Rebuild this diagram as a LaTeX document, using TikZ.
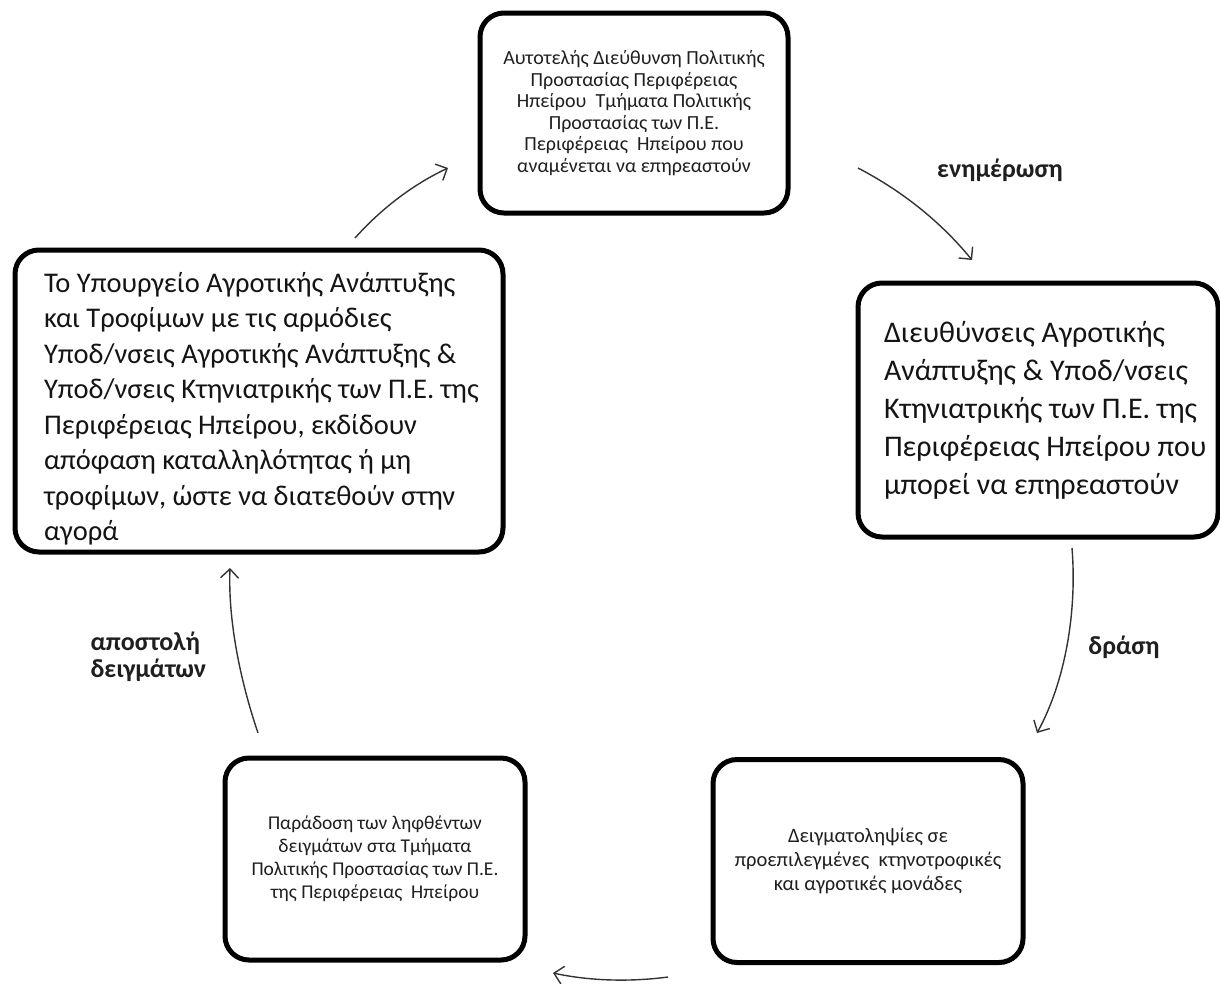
\documentclass[tikz,border=0pt]{standalone}
\usepackage{fontspec}
\setmainfont{Carlito}
\usetikzlibrary{arrows.meta}
\begin{document}
\begin{tikzpicture}[x=1pt,y=-1pt,
  box/.style={draw=black, line width=5pt, rounded corners=24pt, fill=white},
  small/.style={font=\fontsize{20}{21.6}\selectfont, align=center, text=black!88},
  big/.style={font=\fontsize{28.5}{35.5}\selectfont, align=left, text=black!92},
  lbl/.style={font=\bfseries\fontsize{26}{27}\selectfont, text=black!88, align=left},
  conn/.style={draw=black!80, line width=1.4pt, -{Straight Barb[length=9pt,width=18pt,line width=1.4pt]}}]
\useasboundingbox (0,0) rectangle (1220,983);
\fill[white] (0,0) rectangle (1220,983);

% boxes
\node[box, small, minimum width=308pt, minimum height=200pt] (T) at (634,113)
  {Αυτοτελής Διεύθυνση Πολιτικής\\ Προστασίας Περιφέρειας\\ Ηπείρου \ Τμήματα Πολιτικής\\ Προστασίας των Π.Ε.\\ Περιφέρειας \ Ηπείρου που\\ αναμένεται να επηρεαστούν};

\node[box, minimum width=360pt, minimum height=254pt] (R) at (1038,410) {};
\node[big, font=\fontsize{30}{38}\selectfont, anchor=west] (Rt) at ([xshift=25pt]R.west)
  {Διευθύνσεις Αγροτικής\\ Ανάπτυξης \& Υποδ/νσεις\\ Κτηνιατρικής των Π.Ε. της\\ Περιφέρειας Ηπείρου που\\ μπορεί να επηρεαστούν};

\node[box, minimum width=488pt, minimum height=302pt] (L) at (259,401) {};
\node[big, anchor=west] (Lt) at ([xshift=28pt,yshift=-8pt]L.west)
  {Το Υπουργείο Αγροτικής Ανάπτυξης\\ και Τροφίμων με τις αρμόδιες\\ Υποδ/νσεις Αγροτικής Ανάπτυξης \&\\ Υποδ/νσεις Κτηνιατρικής των Π.Ε. της\\ Περιφέρειας Ηπείρου, εκδίδουν\\ απόφαση καταλληλότητας ή μη\\ τροφίμων, ώστε να διατεθούν στην\\ αγορά};

\node[box, small, font=\fontsize{19.5}{23}\selectfont, minimum width=300pt, minimum height=202pt] (BL) at (375,859)
  {Παράδοση των ληφθέντων\\ δειγμάτων στα Τμήματα\\ Πολιτικής Προστασίας των Π.Ε.\\ της Περιφέρειας \ Ηπείρου};

\node[box, small, font=\fontsize{20.5}{24}\selectfont, minimum width=310pt, minimum height=203pt] (BR) at (868,861)
  {Δειγματοληψίες σε\\ προεπιλεγμένες \ κτηνοτροφικές\\ και αγροτικές μονάδες};

% connector end points
\coordinate (a1s) at (355,238);
\coordinate (a1e) at (448,168);
\coordinate (a2s) at (858,168);
\coordinate (a2e) at (972,260);
\coordinate (a3s) at (1072,548);
\coordinate (a3e) at (1037,733);
\coordinate (a4s) at (668,977);
\coordinate (a4e) at (553,973);
\coordinate (a5s) at (258,733);
\coordinate (a5e) at (230,568);

\draw[conn] (a1s) .. controls (381,209) and (412,185) .. (a1e);
\draw[conn] (a2s) .. controls (902,191) and (940,221) .. (a2e);
\draw[conn] (a3s) .. controls (1077,610) and (1066,680) .. (a3e);
\draw[conn] (a4s) .. controls (630,982) and (590,981) .. (a4e);
\draw[conn] (a5s) .. controls (240,680) and (228,620) .. (a5e);

% labels
\node[lbl] (l1) at (1000,170) {ενημέρωση};
\node[lbl] (l2) at (1124,647) {δράση};
\node[lbl, anchor=west] (l3) at (87,657) {αποστολή\\ δειγμάτων};
\end{tikzpicture}
\end{document}
